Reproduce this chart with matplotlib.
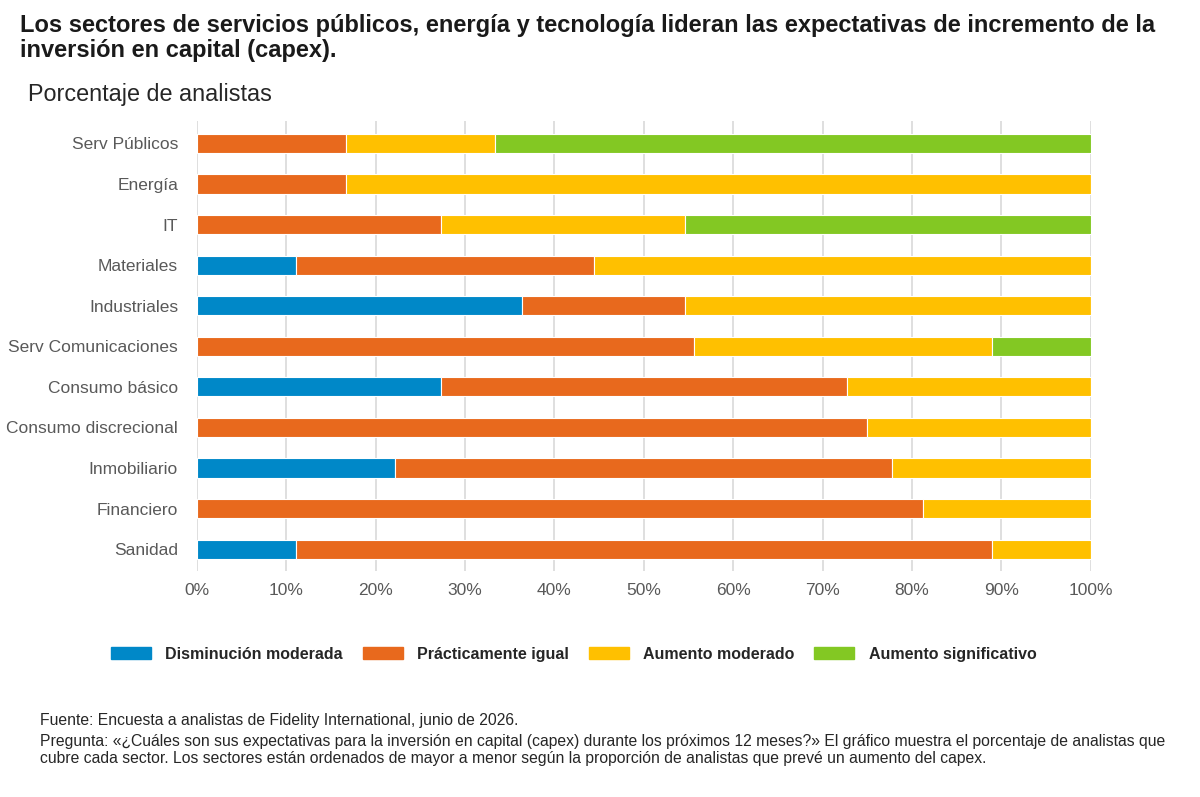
import matplotlib
matplotlib.use("Agg")
import matplotlib.pyplot as plt
import matplotlib.patches as mpatches
import numpy as np

plt.rcParams['font.family'] = ['Liberation Sans', 'DejaVu Sans']

# sectors, top to bottom
sectors = ["Serv Públicos", "Energía", "IT", "Materiales", "Industriales",
           "Serv Comunicaciones", "Consumo básico", "Consumo discrecional",
           "Inmobiliario", "Financiero", "Sanidad"]

# share of analysts (%) per answer
disminucion = [0, 0, 0, 11.1, 36.4, 0, 27.3, 0, 22.2, 0, 11.1]
igual = [16.7, 16.7, 27.3, 33.3, 18.2, 55.6, 45.4, 75.0, 55.6, 81.25, 77.8]
aumento_mod = [16.7, 83.3, 27.3, 55.6, 45.4, 33.3, 27.3, 25.0, 22.2, 18.75, 11.1]
aumento_sig = [66.6, 0, 45.4, 0, 0, 11.1, 0, 0, 0, 0, 0]

series = [("Disminución moderada", disminucion, "#0088C8"),
          ("Prácticamente igual", igual, "#E8691D"),
          ("Aumento moderado", aumento_mod, "#FFC000"),
          ("Aumento significativo", aumento_sig, "#83C823")]

xticks = np.arange(0, 101, 10)
xticklabels = [f"{t}%" for t in xticks]

fig = plt.figure(figsize=(12, 7.97), dpi=100)
ax = fig.add_axes([0.164, 0.283, 0.745, 0.565])

y = np.arange(len(sectors))
left = np.zeros(len(sectors))
for name, vals, col in series:
    vals = np.array(vals)
    ax.barh(y, vals, left=left, height=0.47, color=col, edgecolor="white",
            linewidth=0.8, label=name, zorder=3)
    left += vals

ax.set_ylim(len(sectors) - 0.45, -0.55)
ax.set_xlim(0, 100)
ax.set_yticks(y)
ax.set_yticklabels(sectors, fontsize=12.5, color="#595959")
ax.set_xticks(xticks)
ax.set_xticklabels(xticklabels, fontsize=12.5, color="#595959")
ax.tick_params(axis="both", length=0, pad=8)
ax.tick_params(axis="y", pad=13.5)
ax.grid(axis="x", color="#D9D9D9", linewidth=1.2, zorder=0)
for s in ax.spines.values():
    s.set_visible(False)

fig.text(0.017, 0.982, "Los sectores de servicios públicos, energía y tecnología lideran las expectativas de incremento de la\ninversión en capital (capex).",
         fontsize=17, fontweight="bold", color="#1a1a1a", va="top", linespacing=1.08)
fig.text(0.023, 0.881, "Porcentaje de analistas", fontsize=16.8, color="#262626", va="center")

handles = [mpatches.Patch(color=c, label=n) for n, v, c in series]
leg = fig.legend(handles=handles, loc="center", bbox_to_anchor=(0.478, 0.179), ncol=4,
                 frameon=False, handlelength=2.5, handleheight=0.8, handletextpad=0.9,
                 columnspacing=1.25, prop={"size": 11.5, "weight": "bold"})
for t in leg.get_texts():
    t.set_color("#262626")

fig.text(0.033, 0.096, "Fuente: Encuesta a analistas de Fidelity International, junio de 2026.",
         fontsize=11.3, color="#262626", va="center")
fig.text(0.033, 0.079, "Pregunta: «¿Cuáles son sus expectativas para la inversión en capital (capex) durante los próximos 12 meses?» El gráfico muestra el porcentaje de analistas que\ncubre cada sector. Los sectores están ordenados de mayor a menor según la proporción de analistas que prevé un aumento del capex.",
         fontsize=11.3, color="#262626", va="top", linespacing=1.15)

fig.savefig("out.png", dpi=100)
